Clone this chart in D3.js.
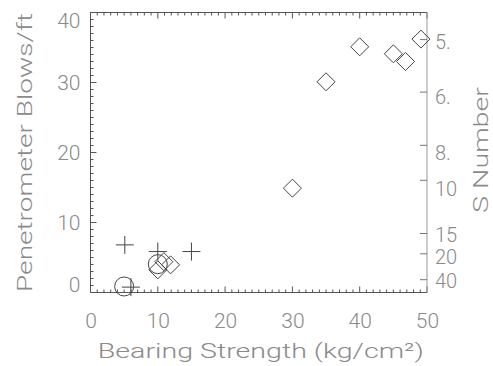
<!DOCTYPE html>
<html><head><meta charset="utf-8">
<script src="https://cdn.jsdelivr.net/npm/d3@7"></script>
<style>
body{margin:0;background:#fff;}
svg text{font-family:"Roboto","DejaVu Sans",sans-serif;font-weight:300;fill:#8a8a8a;}
</style></head>
<body><svg id="c" width="493" height="366"></svg>
<script>
const xTicks = [0, 10, 20, 30, 40, 50];
const yTicks = [0, 10, 20, 30, 40];
const sTickLabels = ["5.", "6.", "8.", "10", "15", "20", "40"];
const sTickBlows = [36.2, 28.7, 21.1, 16.1, 8.5, 5.6, 1.9];

const diamondBearing = [49.1, 40.0, 45.0, 46.8, 35.0, 30.0, 10.9, 11.9, 10.0];
const diamondBlows = [36.2, 35.1, 34.1, 33.0, 30.1, 14.9, 4.4, 3.95, 3.24];
const plusBearing = [5.1, 10.0, 15.0, 6.0];
const plusBlows = [6.8, 5.85, 5.85, 0.77];
const circleBearing = [5.0, 10.0];
const circleBlows = [0.86, 4.05];

const L = 90.5, R = 427, T = 12.5, B = 292.5;
const FONT = '"Roboto","DejaVu Sans",sans-serif';
const svg = d3.select("#c");
const x = d3.scaleLinear().domain([0, 50]).range([L, R]);
const y = d3.scaleLinear().domain([0, 40]).range([B, T]);
const axisCol = "#555", markCol = "#444";

function styleText(sel, size) {
  sel.attr("font-size", size).attr("fill", "#8a8a8a")
    .style("font-family", FONT).style("font-weight", 300);
}

// minor + major ticks
const minorX = d3.range(0, 51, 1);
const minorY = d3.range(0, 41, 1);
const g = svg.append("g").attr("stroke", axisCol).attr("stroke-width", 1).attr("fill", "none");
minorX.forEach(v => {
  const len = v % 10 === 0 ? 6 : 3;
  g.append("line").attr("x1", x(v)).attr("x2", x(v)).attr("y1", B).attr("y2", B - len);
  g.append("line").attr("x1", x(v)).attr("x2", x(v)).attr("y1", T).attr("y2", T + len);
});
minorY.forEach(v => {
  const len = v % 10 === 0 ? 6 : 3;
  g.append("line").attr("x1", L).attr("x2", L + len).attr("y1", y(v)).attr("y2", y(v));
});
// axes lines
g.append("line").attr("x1", L).attr("x2", R).attr("y1", B).attr("y2", B);
g.append("line").attr("x1", L).attr("x2", R).attr("y1", T).attr("y2", T);
g.append("line").attr("x1", L).attr("x2", L).attr("y1", T).attr("y2", B);
g.append("line").attr("x1", R).attr("x2", R).attr("y1", T).attr("y2", B).attr("stroke", "#999");

// x axis labels
const xa = svg.append("g").attr("transform", `translate(0,${B})`)
  .call(d3.axisBottom(x).tickValues(xTicks).tickFormat(d3.format("d")).tickSize(0).tickPadding(21));
xa.select(".domain").remove();
xa.selectAll("text").call(styleText, 21);

// y axis labels
const ya = svg.append("g").attr("transform", `translate(${L},0)`)
  .call(d3.axisLeft(y).tickValues(yTicks).tickFormat(d3.format("d")).tickSize(0).tickPadding(10));
ya.select(".domain").remove();
ya.selectAll("text").call(styleText, 21);
ya.selectAll(".tick").filter(d => d === 40).select("text").attr("dy", "0.72em");
ya.selectAll(".tick").filter(d => d === 0).select("text").attr("dy", "-0.05em");

// right S-number axis
const sOffsets = [2, 5, 7, 8, 1, 3, 1];
const ra = svg.append("g").attr("transform", `translate(${R},0)`)
  .call(d3.axisRight(y).tickValues(sTickBlows).tickFormat((d, i) => sTickLabels[i]).tickSize(-7).tickPadding(8));
ra.select(".domain").remove();
ra.selectAll("line").attr("stroke", "#777");
ra.selectAll("text").call(styleText, 20)
  .attr("dy", (d, i) => `${0.36 + sOffsets[i] / 20}em`);

// titles
svg.append("text").attr("x", (L + R) / 2 + 2).attr("y", 358).attr("text-anchor", "middle")
  .call(styleText, 21).attr("textLength", 326).attr("lengthAdjust", "spacingAndGlyphs")
  .text("Bearing Strength (kg/cm²)");
svg.append("text").attr("transform", `translate(32,${(T + B) / 2}) rotate(-90)`).attr("text-anchor", "middle")
  .call(styleText, 21).attr("textLength", 279).attr("lengthAdjust", "spacingAndGlyphs")
  .text("Penetrometer Blows/ft");
svg.append("text").attr("transform", `translate(488,150) rotate(-90)`).attr("text-anchor", "middle")
  .call(styleText, 21).attr("textLength", 126).attr("lengthAdjust", "spacingAndGlyphs")
  .text("S Number");

// markers
const m = svg.append("g").attr("stroke", markCol).attr("stroke-width", 1).attr("fill", "none");
const ds = 9;
diamondBearing.forEach((bx, i) => {
  const cx = x(bx), cy = y(diamondBlows[i]);
  m.append("path").attr("d", `M${cx},${cy - ds}L${cx + ds},${cy}L${cx},${cy + ds}L${cx - ds},${cy}Z`);
});
plusBearing.forEach((bx, i) => {
  const cx = x(bx), cy = y(plusBlows[i]);
  m.append("path").attr("d", `M${cx - 9},${cy}H${cx + 9}M${cx},${cy - 9}V${cy + 9}`);
});
circleBearing.forEach((bx, i) => {
  m.append("circle").attr("cx", x(bx)).attr("cy", y(circleBlows[i])).attr("r", 9.5);
});
</script></body></html>
